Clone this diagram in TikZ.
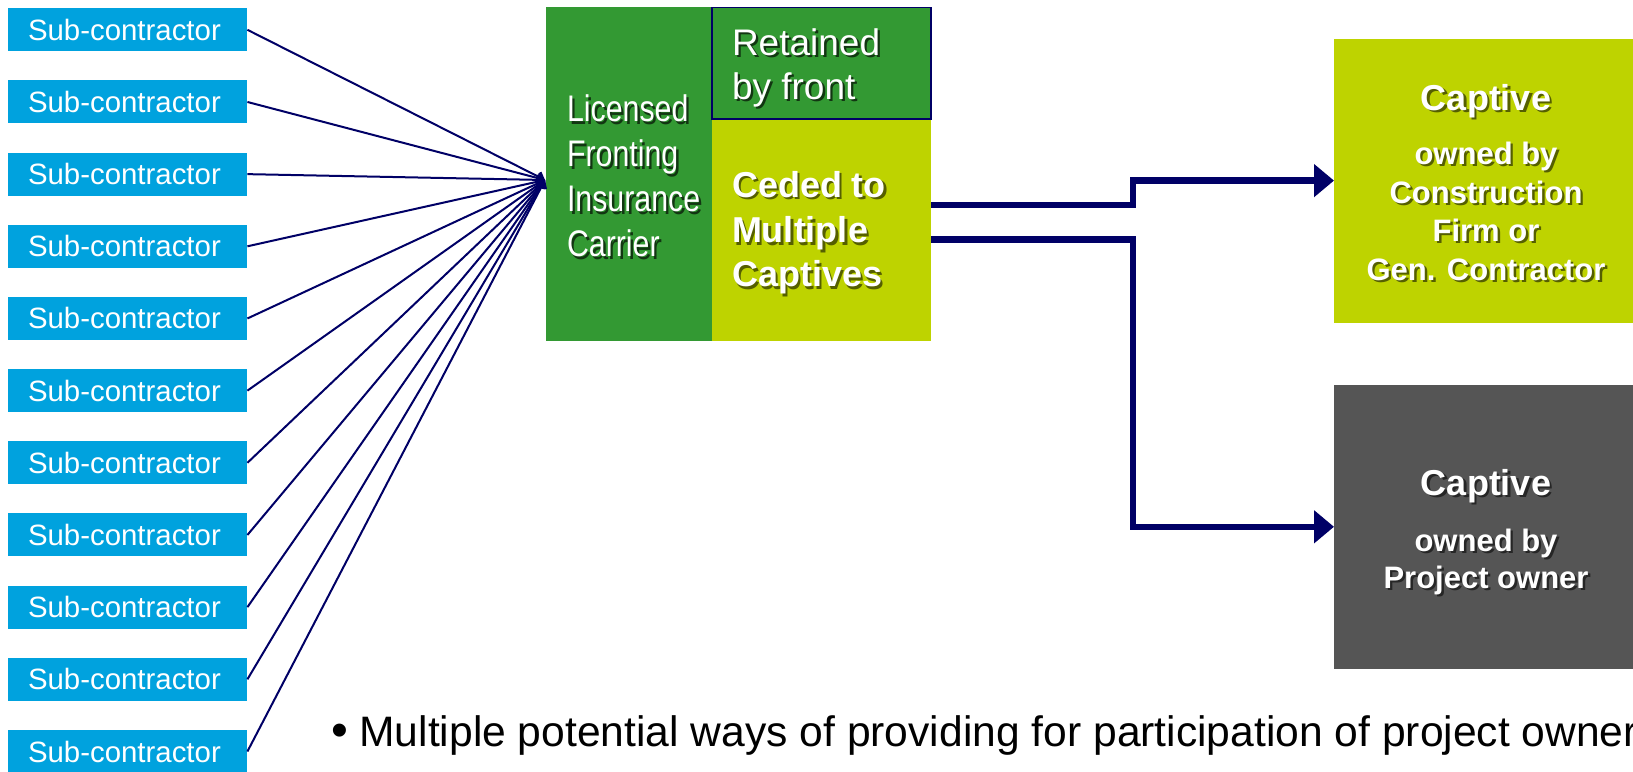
\documentclass[tikz,border=0pt]{standalone}
\usepackage{fontspec}
\setmainfont{Liberation Sans}
\newfontfamily\narrowfont[FakeStretch=0.82]{Liberation Sans}
\usetikzlibrary{arrows.meta}

\definecolor{subblue}{HTML}{00A2DE}
\definecolor{fgreen}{HTML}{339933}
\definecolor{lime}{HTML}{BED300}
\definecolor{cgray}{HTML}{555555}
\definecolor{navy}{HTML}{000066}
\colorlet{shgreen}{fgreen!35!black}
\colorlet{shlime}{lime!45!black}
\colorlet{shgray}{cgray!45!black}

% text with a small drop shadow: #1 shadow colour, #2 text
\newcommand\shd[2]{\makebox[0pt][l]{\hspace{1.2pt}\raisebox{-1.2pt}{\textcolor{#1}{#2}}}#2}

\tikzset{
  subbox/.style={fill=subblue, text=white, inner ysep=0pt, inner xsep=10pt,
    text width=99.5pt, minimum height=21.5pt, align=left,
    font=\fontsize{14.7}{16}\selectfont},
  fan/.style={draw=navy, line width=1pt, -{Straight Barb[length=3pt,width=5pt]}},
  flow/.style={draw=navy, line width=3.25pt, -{Triangle[length=10pt,width=16pt]}},
  block/.style={inner sep=0pt, outer sep=0pt},
  line/.style={inner sep=0pt, outer sep=0pt, text=white},
}

\begin{document}
\begin{tikzpicture}[x=0.5pt, y=-0.5pt]
\useasboundingbox (0,0) rectangle (1633,771);
\fill[white] (0,0) rectangle (1633,771);

% fronting carrier and its two layers
\node[block, fill=fgreen, minimum width=83pt, minimum height=167pt] (front) at (629,174) {};
\node[block, fill=lime, minimum width=109.5pt, minimum height=111pt] (ced) at (821.5,230) {};
\node[block, fill=fgreen, draw=navy, line width=0.75pt, minimum width=109.5pt, minimum height=55.65pt] (ret) at (821.5,63.35) {};

\coordinate (hub) at (545,180);

% sub-contractors feeding the fronting carrier
\foreach \i in {1,...,11}{
  \node[subbox] (sub\i) at (127.5,{29.8+72.17*(\i-1)}) {Sub-contractor};
  \draw[fan] (sub\i.east) -- (hub);
}

% carrier text
\begin{scope}[every node/.style={line, anchor=base west, font=\narrowfont\fontsize{18.5}{22}\selectfont}]
  \node (lic1) at (567,121.7) {\shd{shgreen}{Licensed}};
  \node (lic2) at (567,166.7) {\shd{shgreen}{Fronting}};
  \node (lic3) at (567,211.7) {\shd{shgreen}{Insurance}};
  \node (lic4) at (567,256.7) {\shd{shgreen}{Carrier}};
\end{scope}
\begin{scope}[every node/.style={line, anchor=base west, font=\fontsize{18.5}{22}\selectfont}]
  \node (ret1) at (732,55) {\shd{shgreen}{Retained}};
  \node (ret2) at (732,99.3) {\shd{shgreen}{by front}};
\end{scope}
\begin{scope}[every node/.style={line, anchor=base west, font=\bfseries\fontsize{18}{22}\selectfont}]
  \node (ced1) at (732,197.3) {\shd{shlime}{Ceded to}};
  \node (ced2) at (732,242.7) {\shd{shlime}{Multiple}};
  \node (ced3) at (732,286.7) {\shd{shlime}{Captives}};
\end{scope}

% captives
\node[block, fill=lime, minimum width=152pt, minimum height=142.1pt] (cap1) at (1486,180.6) {};
\node[block, fill=cgray, minimum width=152pt, minimum height=141.8pt] (cap2) at (1486,526.8) {};

\begin{scope}[every node/.style={line, anchor=base, font=\bfseries\fontsize{15.5}{19}\selectfont}]
  \node[font=\bfseries\fontsize{18}{22}\selectfont] (c1a) at (1486,110) {\shd{shlime}{Captive}};
  \node (c1b) at (1486,164) {\shd{shlime}{owned by}};
  \node (c1c) at (1486,203) {\shd{shlime}{Construction}};
  \node (c1d) at (1486,241.5) {\shd{shlime}{Firm or}};
  \node (c1e) at (1486,280) {\shd{shlime}{Gen. Contractor}};
  \node[font=\bfseries\fontsize{18}{22}\selectfont] (c2a) at (1486,495) {\shd{shgray}{Captive}};
  \node (c2b) at (1486,551) {\shd{shgray}{owned by}};
  \node (c2c) at (1486,588.3) {\shd{shgray}{Project owner}};
\end{scope}

% cessions to the captives
\draw[flow] ([yshift=12.5pt]ced.east) -- ++(101pt,0) |- (cap1.west);
\draw[flow] ([yshift=-4.65pt]ced.east) -- ++(101pt,0) |- (cap2.west);

% note
\node[inner sep=0pt, anchor=base, font=\fontsize{24}{26}\selectfont] (bul) at (340,746) {•};
\node[inner sep=0pt, anchor=base west, font=\fontsize{21.3}{24}\selectfont] (note) at (359,746)
  {Multiple potential ways of providing for participation of project owner};
\end{tikzpicture}
\end{document}
